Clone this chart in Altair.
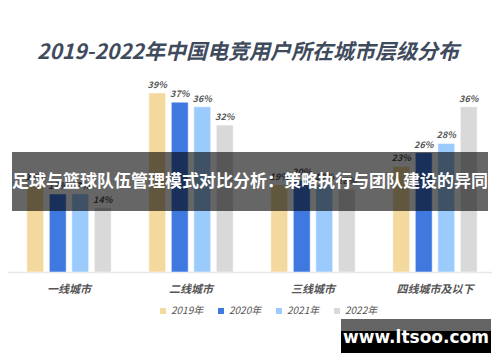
import altair as alt
import pandas as pd

categories = ["一线城市", "二线城市", "三线城市", "四线城市及以下"]
years = ["2019年", "2020年", "2021年", "2022年"]
v2019 = [19, 39, 19, 23]
v2020 = [17, 37, 20, 26]
v2021 = [17, 36, 19, 28]
v2022 = [14, 32, 18, 36]
colors = ["#f3d99e", "#3f79e0", "#9bcbfd", "#d9d9d9"]

title_text = "2019-2022年中国电竞用户所在城市层级分布"
banner_text = "足球与篮球队伍管理模式对比分析：策略执行与团队建设的异同"
watermark_text = "www.ltsoo.com"

rows = []
for yr, vals in zip(years, [v2019, v2020, v2021, v2022]):
    for c, v in zip(categories, vals):
        rows.append({"city": c, "year": yr, "value": v, "label": f"{v}%"})
df = pd.DataFrame(rows)

FONT = "Noto Sans CJK SC"

xs = alt.Scale(domain=categories, range=[0, 488], paddingInner=0, paddingOuter=0)
xo = alt.Scale(domain=years, range=[16, 106], paddingInner=0.25, paddingOuter=0.125)
ys = alt.Scale(domain=[0, 40], range=[264, 80.4])

base = alt.Chart(df)

bars = base.mark_bar(stroke="white", strokeOpacity=0.5, strokeWidth=1).encode(
    x=alt.X("city:N", scale=xs, axis=None, sort=categories),
    xOffset=alt.XOffset("year:N", scale=xo, sort=years),
    y=alt.Y("value:Q", scale=ys, axis=None),
    color=alt.Color(
        "year:N",
        scale=alt.Scale(domain=years, range=colors),
        legend=alt.Legend(
            title=None,
            orient="none",
            direction="horizontal",
            legendX=150,
            legendY=298,
            symbolType="square",
            symbolSize=36,
            symbolStrokeWidth=0,
            labelFont=FONT,
            labelFontSize=10,
            labelFontStyle="italic",
            labelColor="#555555",
            columnPadding=12,
            labelOffset=3,
        ),
    ),
)

labels = base.mark_text(
    dy=-8, font=FONT, fontSize=9, fontStyle="italic", fontWeight="bold", color="#555555"
).encode(
    x=alt.X("city:N", scale=xs, axis=None, sort=categories),
    xOffset=alt.XOffset("year:N", scale=xo, sort=years),
    y=alt.Y("value:Q", scale=ys, axis=None),
    text="label:N",
)

catdf = pd.DataFrame({"city": categories})
catlabels = alt.Chart(catdf).mark_text(
    font=FONT, fontSize=11, fontStyle="italic", fontWeight="bold", color="#555555"
).encode(
    x=alt.X("city:N", scale=xs, axis=None, sort=categories),
    y=alt.value(282),
    text="city:N",
)

one = pd.DataFrame({"a": [0]})

baseline = alt.Chart(one).mark_rule(color="#e6e6e6", strokeWidth=1.5).encode(
    x=alt.value(0), x2=alt.value(487), y=alt.value(264.5)
)

title = alt.Chart(one).mark_text(
    text=title_text, font=FONT, fontSize=21, fontStyle="italic", fontWeight="bold",
    color="#3f4b5d", align="center", baseline="middle"
).encode(x=alt.value(240), y=alt.value(45))

banner = alt.Chart(one).mark_rect(color="black", opacity=0.6).encode(
    x=alt.value(4), x2=alt.value(480), y=alt.value(144), y2=alt.value(203)
)
banner_t = alt.Chart(one).mark_text(
    text=banner_text, font=FONT, fontSize=17, fontWeight="bold", color="white",
    align="center", baseline="middle"
).encode(x=alt.value(242), y=alt.value(174))

wm_top = alt.Chart(one).mark_rect(color="#646464").encode(
    x=alt.value(333), x2=alt.value(483), y=alt.value(311), y2=alt.value(323)
)
wm_bot = alt.Chart(one).mark_rect(color="black").encode(
    x=alt.value(333), x2=alt.value(483), y=alt.value(323), y2=alt.value(345)
)
wm_t = alt.Chart(one).mark_text(
    text=watermark_text, font="DejaVu Sans", fontSize=17, fontWeight="bold", color="white",
    align="center", baseline="middle"
).encode(x=alt.value(408), y=alt.value(330))

chart = alt.layer(
    baseline, bars, labels, catlabels, title, banner, banner_t, wm_top, wm_bot, wm_t
).properties(
    width=484, height=346, padding=0, autosize="none"
).configure_view(stroke=None)

chart.save("out.html", embed_options={"renderer": "svg", "actions": False})
